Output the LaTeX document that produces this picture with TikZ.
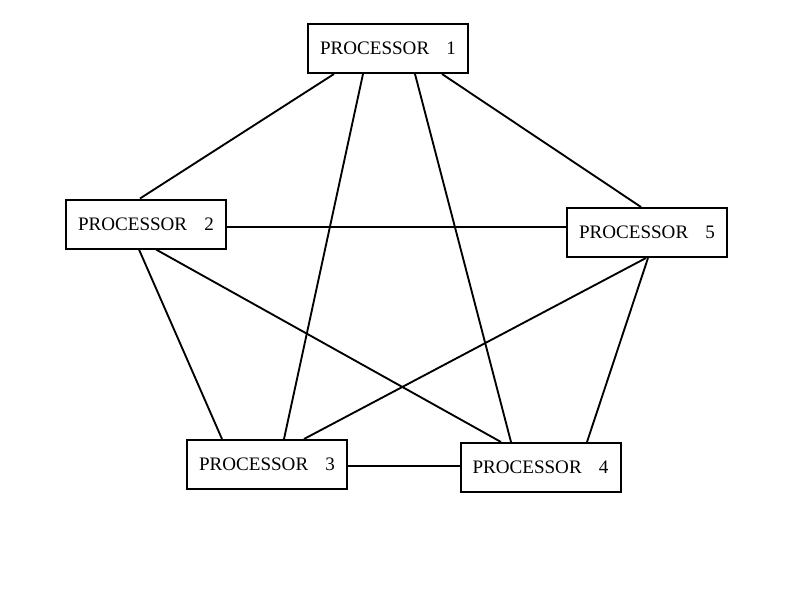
\documentclass[tikz,border=0pt]{standalone}
\usepackage{fontspec}
\setmainfont{Liberation Serif}
\tikzset{
  procbox/.style={draw, line width=1.5pt, minimum width=120pt, minimum height=36.75pt,
    inner sep=0pt, font=\fontsize{14.3}{17}\selectfont},
  link/.style={line width=1.4pt}
}
\begin{document}
\begin{tikzpicture}[x=0.75pt, y=-0.75pt]
\useasboundingbox (0,0) rectangle (800,600);
\node[procbox] (p1) at (388,48.5) {PROCESSOR\hspace{0.9em}1};
\node[procbox] (p2) at (146,224) {PROCESSOR\hspace{0.9em}2};
\node[procbox] (p5) at (647,232.5) {PROCESSOR\hspace{0.9em}5};
\node[procbox] (p3) at (267,464.5) {PROCESSOR\hspace{0.9em}3};
\node[procbox] (p4) at (540.5,467.5) {PROCESSOR\hspace{0.9em}4};
% links from processor 1
\draw[link] ([shift={(-54,0)}]p1.south) -- ([shift={(-6,0)}]p2.north);
\draw[link] ([shift={(-25,0)}]p1.south) -- ([shift={(17,0)}]p3.north);
\draw[link] ([shift={(27,0)}]p1.south) -- ([shift={(-29.5,0)}]p4.north);
\draw[link] ([shift={(54,0)}]p1.south) -- ([shift={(-6,0)}]p5.north);
% links from processor 2
\draw[link] ([shift={(0,3)}]p2.east) -- ([shift={(0,-5.5)}]p5.west);
\draw[link] ([shift={(-7,0)}]p2.south) -- ([shift={(-45,0)}]p3.north);
\draw[link] ([shift={(10,0)}]p2.south) -- ([shift={(-39.5,0)}]p4.north);
% links from processor 5
\draw[link] ([shift={(-1,0)}]p5.south) -- ([shift={(37,0)}]p3.north);
\draw[link] ([shift={(1,0)}]p5.south) -- ([shift={(46.5,0)}]p4.north);
% processor 3 to 4
\draw[link] ([shift={(0,1.5)}]p3.east) -- ([shift={(0,-1.5)}]p4.west);
\end{tikzpicture}
\end{document}
